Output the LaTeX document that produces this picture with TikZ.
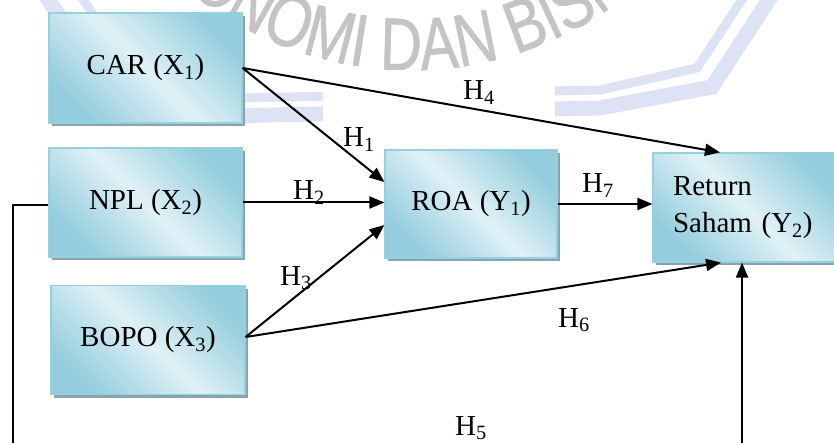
\documentclass[tikz,border=0pt]{standalone}
\usepackage{fontspec}
\setmainfont{Liberation Serif}
\newfontfamily\wmfont[FakeStretch=0.78,FakeBold=0.8]{Liberation Sans}
\usetikzlibrary{arrows.meta,shadows,decorations.text,calc}

\definecolor{boxdark}{RGB}{148,205,221}
\definecolor{boxlight}{RGB}{224,241,246}
\definecolor{boxedge}{RGB}{150,208,223}
\definecolor{boxshadow}{RGB}{138,163,173}
\definecolor{wmtext}{RGB}{196,196,196}
\definecolor{wmband}{RGB}{221,227,245}

\tikzset{
  varbox/.style={rectangle, draw=boxedge, line width=1.2pt, inner sep=0pt,
    left color=boxdark, right color=boxdark, middle color=boxlight,
    shading angle=135,
    general shadow={fill=boxshadow, shadow xshift=3pt, shadow yshift=-3pt},
    font=\fontsize{29}{37}\selectfont},
  hlab/.style={inner sep=0pt, anchor=base west, font=\fontsize{29}{35}\selectfont},
  link/.style={line width=2pt, -{Triangle[length=15pt,width=12pt]}},
  band/.style={draw=wmband, line join=miter}
}

\begin{document}
\begin{tikzpicture}[x=1pt,y=1pt]
\useasboundingbox (0,0) rectangle (834,442);
\clip (0,0) rectangle (834,442);

% faint faculty watermark behind the model
\draw[band, line width=9pt]  (80,447) -- (150,342) -- (600,352) -- (697,374) -- (745,447);
\draw[band, line width=15pt] (45,447) -- (130,324) -- (600,334) -- (712,355) -- (772,447);
\path[decorate, decoration={text along path, text align=center, text color=wmtext,
      text={|\wmfont\fontsize{74}{74}\selectfont|EKONOMI DAN BISNIS}}]
  (411,722) ++(218:350pt) arc[start angle=218, end angle=318, radius=350pt];

% white label area
\fill[white] (323,292) rectangle (555,362);

% variables
\node[varbox, minimum width=193pt, minimum height=110pt] (car)  at (145.5,374)   {CAR (X\textsubscript{1})};
\node[varbox, minimum width=193pt, minimum height=109pt] (npl)  at (145.5,239.5) {NPL (X\textsubscript{2})};
\node[varbox, minimum width=194pt, minimum height=109pt] (bopo) at (148,102)     {BOPO (X\textsubscript{3})};
\node[varbox, minimum width=172pt, minimum height=108pt] (roa)  at (471,238)     {ROA (Y\textsubscript{1})};
\node[varbox, minimum width=187pt, minimum height=109pt, inner xsep=20pt,
      text width=147pt, align=left] (ret) at (746.5,234.5) {Return\\Saham (Y\textsubscript{2})};

% hypothesised paths
\coordinate (loopleft)  at (13,-20);
\coordinate (loopright) at (742,-20);
\draw[link] (car.east) -- ([yshift=22pt]roa.west);
\draw[link] (car.east) -- ([xshift=-26.5pt]ret.north);
\draw[link] (npl.east) -- (npl.east -| roa.west);
\draw[link] ([yshift=3pt]bopo.east) -- ([yshift=-21pt]roa.west);
\draw[link] ([yshift=3pt]bopo.east) -- ([xshift=-25.5pt]ret.south);
\draw[link] (roa.east) -- (roa.east -| ret.west);
\draw[link] ([yshift=-3pt]npl.west) -- ([yshift=-3pt]npl.west -| loopleft)
  -- (loopleft) -- (loopright) -- ([xshift=-4.5pt]ret.south);

% path labels
\node[hlab] (h1) at (343,295) {H\textsubscript{1}};
\node[hlab] (h2) at (293,242) {H\textsubscript{2}};
\node[hlab] (h3) at (280,157) {H\textsubscript{3}};
\node[hlab] (h4) at (463,342) {H\textsubscript{4}};
\node[hlab] (h5) at (455,7)   {H\textsubscript{5}};
\node[hlab] (h6) at (558,115) {H\textsubscript{6}};
\node[hlab] (h7) at (582,249) {H\textsubscript{7}};
\end{tikzpicture}
\end{document}
